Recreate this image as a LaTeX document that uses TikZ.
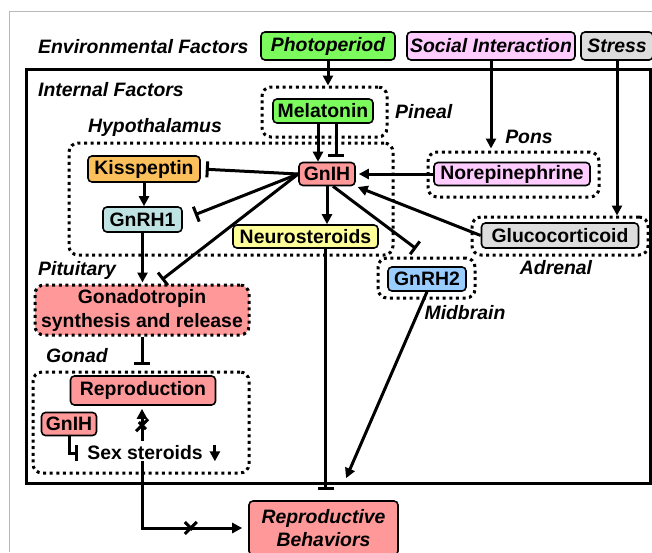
\documentclass[tikz,border=0pt]{standalone}
\usepackage{fontspec}
\setmainfont{Liberation Sans}
\usetikzlibrary{arrows.meta,shapes.misc}

\definecolor{photoG}{HTML}{7CFC5C}
\definecolor{socialP}{HTML}{FFCCFF}
\definecolor{stressG}{HTML}{DDDDDD}
\definecolor{kissO}{HTML}{FBBF5C}
\definecolor{gnihR}{HTML}{FF9999}
\definecolor{gnrhC}{HTML}{BFE3E3}
\definecolor{neuroY}{HTML}{FFFF99}
\definecolor{gnrhB}{HTML}{99CCFF}

\begin{document}
\begin{tikzpicture}[x=1pt,y=-1pt]
	\tikzstyle{Box}=[draw,line width=1.6pt,rounded corners=4pt,inner sep=0pt,font=\bfseries\fontsize{19.4}{24}\selectfont]
	\tikzstyle{IBox}=[Box,font=\bfseries\itshape\fontsize{19.4}{23}\selectfont]
	\tikzstyle{Region}=[draw,line width=3pt,dash pattern=on 3pt off 3.6pt,rounded corners=9pt,inner sep=0pt]
	\tikzstyle{Tag}=[inner sep=0pt,font=\bfseries\itshape\fontsize{19.4}{22}\selectfont]
	\tikzstyle{Act}=[line width=3pt,-{Triangle[length=10pt,width=10pt]}]
	\tikzstyle{Inh}=[line width=3pt,-{Bar[width=16pt]}]
	\tikzstyle{Block}=[cross out,draw,line width=3pt,minimum size=9pt,inner sep=0pt]
	\useasboundingbox (0,0) rectangle (652,552);
	\draw[black!28,line width=1pt] (9,552) -- (9,11) -- (652,11);
	\node[draw,line width=3pt,minimum width=624pt,minimum height=414pt,inner sep=0pt] (internal) at (338.5,276.5) {};
	\node[Tag,anchor=west] (envlab) at (38,47) {Environmental Factors};
	\node[IBox,fill=photoG,minimum width=134pt,minimum height=28pt] (photo) at (328,46) {Photoperiod};
	\node[IBox,fill=socialP,minimum width=168pt,minimum height=28pt] (social) at (491,46) {Social Interaction};
	\node[IBox,fill=stressG,minimum width=72pt,minimum height=28pt] (stress) at (617,46) {Stress};
	\node[Tag,anchor=west] (intlab) at (38,90) {Internal Factors};
	\node[Region,minimum width=125pt,minimum height=50pt] (pineal) at (324.5,112) {};
	\node[Box,fill=photoG,minimum width=100pt,minimum height=24pt] (melatonin) at (323,111) {Melatonin};
	\node[Tag,anchor=west] (pinealtag) at (395,112) {Pineal};
	\node[Region,minimum width=324pt,minimum height=112pt] (hypo) at (231,199) {};
	\node[Tag] (hypotag) at (155,127) {Hypothalamus};
	\node[Box,fill=kissO,minimum width=112pt,minimum height=26pt] (kiss) at (144,169) {Kisspeptin};
	\node[Box,fill=gnihR,minimum width=56pt,minimum height=23pt] (gnih) at (327,174) {GnIH};
	\node[Region,minimum width=171pt,minimum height=45pt] (pons) at (513.5,174.5) {};
	\node[Tag] (ponstag) at (529,137) {Pons};
	\node[Box,fill=socialP,minimum width=156pt,minimum height=23pt] (norepi) at (512,174) {Norepinephrine};
	\node[Box,fill=gnrhC,minimum width=79pt,minimum height=25pt] (gnrh1) at (142.5,219.5) {GnRH1};
	\node[Box,fill=neuroY,minimum width=145pt,minimum height=23pt] (neuro) at (305.5,236.5) {Neurosteroids};
	\node[Region,minimum width=176pt,minimum height=38pt] (adrenal) at (560,236) {};
	\node[Box,fill=stressG,minimum width=157pt,minimum height=25pt] (gluco) at (560,235.5) {Glucocorticoid};
	\node[Tag] (adrenaltag) at (556,268) {Adrenal};
	\node[Tag,anchor=west] (pitutag) at (38,270) {Pituitary};
	\node[Region,minimum width=97pt,minimum height=40pt] (midbrain) at (426.5,278) {};
	\node[Box,fill=gnrhB,minimum width=78pt,minimum height=24pt] (gnrh2) at (427,279) {GnRH2};
	\node[Tag] (midtag) at (465,313) {Midbrain};
	\node[Region,fill=gnihR,minimum width=214pt,minimum height=50pt,align=center,font=\bfseries\fontsize{19.4}{24}\selectfont] (gonadotropin) at (142,310) {Gonadotropin\\synthesis and release};
	\node[Tag,anchor=west] (gonadtag) at (46,356) {Gonad};
	\node[Region,minimum width=216pt,minimum height=101pt] (gonad) at (141,422.5) {};
	\node[Box,fill=gnihR,minimum width=145pt,minimum height=29pt] (repro) at (143,390.5) {Reproduction};
	\node[Box,fill=gnihR,minimum width=55pt,minimum height=23pt] (gnihg) at (69,424) {GnIH};
	\node[inner sep=1pt,font=\bfseries\fontsize{19.4}{22}\selectfont] (steroids) at (145,453) {Sex steroids};
	\node[IBox,fill=gnihR,minimum width=149pt,minimum height=54pt,align=center] (repbeh) at (323.5,528) {Reproductive\\Behaviors};
	\draw[Act] (photo.south) -- (photo.south |- pineal.north);
	\draw[Act,shorten >=2pt] (social.south) -- (social.south |- pons.north);
	\draw[Act] (stress.south) -- (stress.south |- adrenal.north);
	\draw[Act] ([xshift=-5pt]melatonin.south) -- ([xshift=-5pt]melatonin.south |- gnih.north);
	\draw[Inh,shorten >=5pt] ([xshift=13pt]melatonin.south) -- ([xshift=13pt]melatonin.south |- gnih.north);
	\draw[Inh,shorten >=5pt] (gnih.west) -- (kiss.east);
	\draw[Inh,shorten >=13pt] (gnih.west) -- (gnrh1.east);
	\draw[Inh,shorten >=6pt] (gnih.west) -- ([xshift=15pt]gonadotropin.north);
	\draw[Act] (gnih.south) -- (gnih.south |- neuro.north);
	\draw[Inh,shorten >=13pt] ([xshift=6pt]gnih.south) -- (midbrain.north);
	\draw[Act,shorten >=3pt] (norepi.west) -- (gnih.east);
	\draw[Act,shorten >=2pt] (gluco.west) -- (gnih.south east);
	\draw[Act] (kiss.south) -- (kiss.south |- gnrh1.north);
	\draw[Act,shorten >=1pt] (gnrh1.south) -- (gnrh1.south |- gonadotropin.north);
	\draw[Inh,shorten >=10pt] (gonadotropin.south) -- (gonadotropin.south |- repro.north);
	\draw[Inh,shorten >=10pt] ([xshift=2pt]repbeh.north |- neuro.south) -- ([xshift=2pt]repbeh.north);
	\draw[Act,shorten >=24pt] (gnrh2.south) -- ([xshift=13pt]repbeh.north);
	\draw[Act,shorten >=3pt,shorten <=4pt] ([xshift=-3pt]steroids.north) -- ([xshift=-3pt]steroids.north |- repro.south) node[Block,midway] (cut1) {};
	\draw[Act,shorten >=6pt] ([xshift=-3pt]steroids.south) |- node[Block,pos=0.73] (cut2) {} (repbeh.west);
	\draw[Inh,shorten >=8pt] (gnihg.south) |- (steroids.west);
	\draw[Act] ([xshift=11pt]steroids.north east) -- ([xshift=11pt]steroids.south east);
\end{tikzpicture}
\end{document}
